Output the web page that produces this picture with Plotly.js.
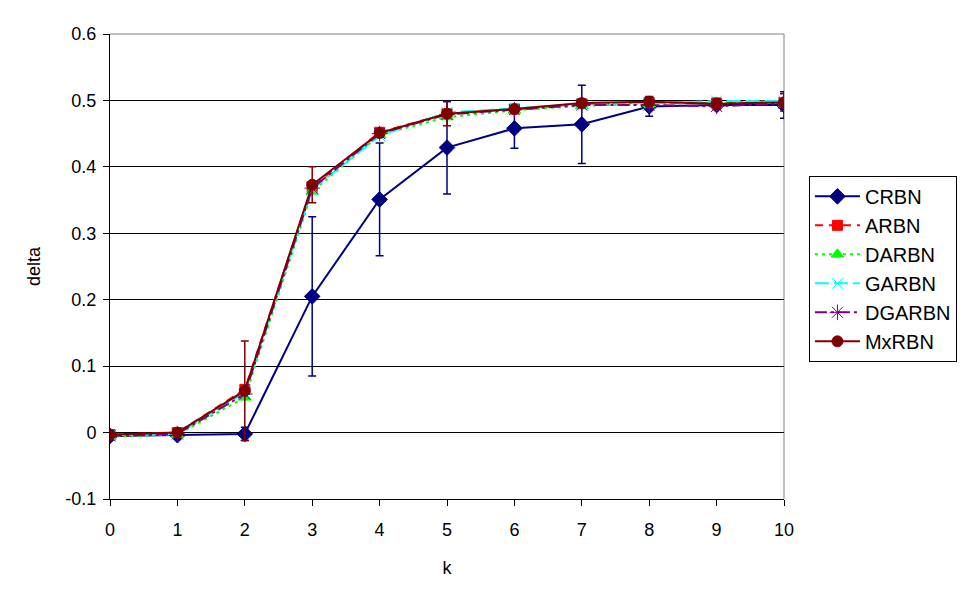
<!DOCTYPE html>
<html>
<head>
<meta charset="utf-8">
<script src="https://cdn.plot.ly/plotly-3.0.1.min.js"></script>
<style>html,body{margin:0;padding:0;background:#fff;}#chart{width:970px;height:603px;}</style>
</head>
<body>
<div id="chart"></div>
<script>
const k = [0, 1, 2, 3, 4, 5, 6, 7, 8, 9, 10];
const CRBN   = [-0.005, -0.004, -0.002, 0.205, 0.351, 0.429, 0.458, 0.464, 0.491, 0.493, 0.493];
const CRBN_err = [0.003, 0.003, 0.010, 0.120, 0.085, 0.070, 0.030, 0.059, 0.015, 0.005, 0.020];
const ARBN   = [-0.003, 0.000, 0.065, 0.370, 0.452, 0.480, 0.487, 0.495, 0.497, 0.496, 0.497];
const DARBN  = [-0.006, -0.003, 0.053, 0.363, 0.448, 0.475, 0.485, 0.492, 0.495, 0.497, 0.499];
const GARBN  = [-0.004, -0.002, 0.060, 0.366, 0.447, 0.482, 0.488, 0.495, 0.496, 0.499, 0.499];
const DGARBN = [-0.005, -0.002, 0.058, 0.368, 0.450, 0.479, 0.486, 0.493, 0.493, 0.491, 0.496];
const MxRBN  = [-0.003, 0.000, 0.063, 0.373, 0.451, 0.480, 0.487, 0.496, 0.498, 0.495, 0.497];
const MxRBN_err = [0.002, 0.002, 0.075, 0.027, 0.005, 0.018, 0.004, 0.006, 0.007, 0.008, 0.013];
const yTicks = [-0.1, 0, 0.1, 0.2, 0.3, 0.4, 0.5, 0.6];
const yTickText = ['-0.1', '0', '0.1', '0.2', '0.3', '0.4', '0.5', '0.6'];

const traces = [
  {name: 'CRBN', y: CRBN, color: '#000080', dash: 'solid', symbol: 'diamond', size: 12, err: CRBN_err},
  {name: 'ARBN', y: ARBN, color: '#FF0000', dash: '8px,6px', symbol: 'square', size: 10},
  {name: 'DARBN', y: DARBN, color: '#00FF00', dash: '3px,4px', symbol: 'triangle-up', size: 11},
  {name: 'GARBN', y: GARBN, color: '#00FFFF', dash: '14px,5px', symbol: 'x-thin-open', size: 11},
  {name: 'DGARBN', y: DGARBN, color: '#800080', dash: '12px,4px,3px,4px', symbol: 'asterisk-open', size: 13},
  {name: 'MxRBN', y: MxRBN, color: '#800000', dash: 'solid', symbol: 'circle', size: 11, err: MxRBN_err}
].map((s) => {
  const t = {
    type: 'scatter', mode: 'lines+markers', name: s.name, x: k, y: s.y,
    line: {color: s.color, width: 2, dash: s.dash},
    marker: {symbol: s.symbol, size: s.size, color: s.color, line: {color: s.color, width: 1}}
  };
  if (s.err) t.error_y = {type: 'data', array: s.err, visible: true, color: s.color, thickness: 1.5, width: 4};
  return t;
});

const layout = {
  width: 970, height: 603,
  margin: {l: 110, r: 186, t: 34, b: 104},
  paper_bgcolor: '#fff', plot_bgcolor: '#fff',
  font: {family: 'Liberation Sans, Arial, sans-serif', size: 18, color: '#000'},
  xaxis: {
    range: [0, 10], tickvals: k, ticktext: k.map(String),
    showgrid: false, zeroline: false, showline: true, linecolor: '#000', linewidth: 1,
    ticks: 'outside', ticklen: 6, tickcolor: '#000', ticklabelstandoff: 8,
    title: {text: 'k', font: {size: 18}, standoff: 22}
  },
  yaxis: {
    range: [-0.1, 0.6], tickvals: yTicks, ticktext: yTickText,
    showgrid: true, gridcolor: '#000', gridwidth: 1,
    zeroline: true, zerolinecolor: '#000', zerolinewidth: 1,
    showline: true, linecolor: '#000', linewidth: 1,
    ticks: 'outside', ticklen: 6, tickcolor: '#000', ticklabelstandoff: 3,
    title: {text: 'delta', font: {size: 18}, standoff: 20}
  },
  shapes: [
    {type: 'line', xref: 'paper', yref: 'paper', x0: 0, x1: 1, y0: 1, y1: 1, line: {color: '#808080', width: 1}, layer: 'above'},
    {type: 'line', xref: 'paper', yref: 'paper', x0: 1, x1: 1, y0: 0, y1: 1, line: {color: '#808080', width: 1}, layer: 'below'}
  ],
  legend: {
    x: 1.037, y: 0.695, xanchor: 'left', yanchor: 'top',
    bgcolor: '#fff', bordercolor: '#000', borderwidth: 1,
    font: {size: 20}, itemwidth: 45
  },
  showlegend: true
};

Plotly.newPlot('chart', traces, layout, {staticPlot: true, displayModeBar: false});
</script>
</body>
</html>
